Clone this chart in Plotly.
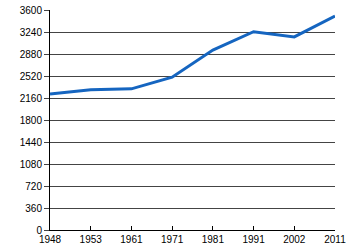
import plotly.graph_objects as go

years = ["1948", "1953", "1961", "1971", "1981", "1991", "2002", "2011"]
values = [2225, 2295, 2310, 2500, 2945, 3245, 3160, 3500]
y_ticks = [0, 360, 720, 1080, 1440, 1800, 2160, 2520, 2880, 3240, 3600]

fig = go.Figure()
fig.add_trace(go.Scatter(x=years, y=values, mode="lines",
                         line=dict(color="#1565c0", width=3)))

fig.update_layout(
    width=350, height=250,
    margin=dict(l=50, r=15, t=10, b=20),
    paper_bgcolor="white", plot_bgcolor="white",
    showlegend=False,
    font=dict(family="Liberation Sans, Arial, sans-serif", size=10, color="black"),
)
fig.update_xaxes(type="category", range=[0, len(years) - 1], automargin=False,
                 showline=True, linecolor="black", linewidth=1,
                 ticks="inside", ticklen=4, tickcolor="black",
                 showgrid=False, zeroline=False, tickfont=dict(size=10))
fig.update_yaxes(range=[0, 3600], tickvals=y_ticks, automargin=False,
                 showline=True, linecolor="black", linewidth=1,
                 ticks="outside", ticklen=5, tickcolor="#444",
                 showgrid=True, gridcolor="#444", gridwidth=1,
                 zeroline=False, tickfont=dict(size=10))

fig.write_html("out.html")
